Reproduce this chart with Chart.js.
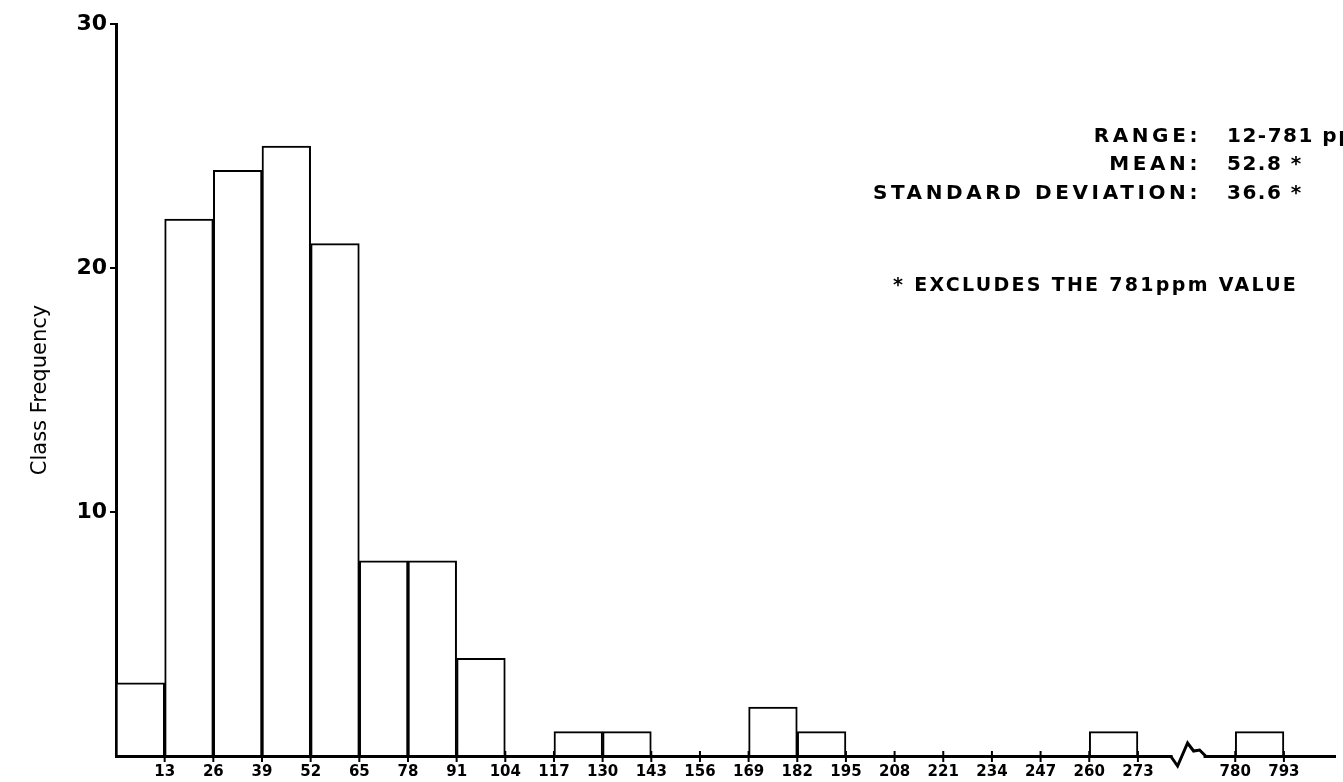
<!DOCTYPE html>
<html>
<head>
<meta charset="utf-8">
<script src="https://cdn.jsdelivr.net/npm/chart.js@4"></script>
<style>
  body { margin: 0; background: #fff; }
</style>
</head>
<body>
<canvas id="histogram" width="1343" height="782"></canvas>
<script>
/*
 * Data: class edges (ppm) and class frequencies
 */

// tick labels on the x axis and the bin edge index they sit on (20 -> 22 is the axis break)
let edgeLabels = ['13', '26', '39', '52', '65', '78', '91', '104', '117', '130', '143', '156',
    '169', '182', '195', '208', '221', '234', '247', '260', '273', '780', '793']
let edgeIndex = [0, 1, 2, 3, 4, 5, 6, 7, 8, 9, 10, 11, 12, 13, 14, 15, 16, 17, 18, 19, 20, 22, 23]

// each bin starts at this edge index and runs one class width
let binStart = [-1, 0, 1, 2, 3, 4, 5, 6, 7, 8, 9, 10, 11, 12, 13, 14, 15, 16, 17, 18, 19, 22]
let classFrequency = [3, 22, 24, 25, 21, 8, 8, 4, 0, 1, 1, 0, 0, 2, 1, 0, 0, 0, 0, 0, 1, 1]

let yTicks = [0, 10, 20, 30]

let statLabels = ['RANGE:', 'MEAN:', 'STANDARD DEVIATION:']
let statValues = ['12-781 ppm', '52.8 *', '36.6 *']
let footNote = '* EXCLUDES THE 781ppm VALUE'

let barData = binStart.map(function (s, i) {
    return { x: s + 0.5, y: classFrequency[i] }
})

/*
 * Tick crosses and axis break on the x axis, plus the statistics text
 */

let extrasPlugin = {
    id: 'extras',
    afterDraw: function (chart) {
        let ctx = chart.ctx
        let xs = chart.scales.x
        let y0 = chart.scales.y.getPixelForValue(0)
        let bx = xs.getPixelForValue(21)

        ctx.save()
        ctx.strokeStyle = '#000'
        ctx.lineWidth = 2
        edgeIndex.forEach(function (v) {
            let px = xs.getPixelForValue(v)
            ctx.beginPath()
            ctx.moveTo(px, y0 - 5)
            ctx.lineTo(px, y0 + 6)
            ctx.stroke()
        })

        ctx.fillStyle = '#fff'
        ctx.fillRect(bx - 14, y0 - 3, 31, 6)
        ctx.lineWidth = 3
        ctx.lineJoin = 'miter'
        ctx.beginPath()
        ctx.moveTo(bx - 16, y0)
        ctx.lineTo(bx - 9, y0 + 10)
        ctx.lineTo(bx + 1, y0 - 13)
        ctx.lineTo(bx + 7, y0 - 5)
        ctx.lineTo(bx + 13, y0 - 6)
        ctx.lineTo(bx + 19, y0)
        ctx.stroke()

        ctx.fillStyle = '#000'
        ctx.font = 'bold 20px "DejaVu Sans"'
        ctx.textBaseline = 'middle'
        let rows = [137, 165, 194]
        for (let i = 0; i < statLabels.length; i++) {
            ctx.letterSpacing = '3.6px'
            ctx.textAlign = 'right'
            ctx.fillText(statLabels[i], 1201, rows[i])
            ctx.textAlign = 'left'
            ctx.letterSpacing = '1.5px'
            ctx.fillText(statValues[i], 1227, rows[i])
        }
        ctx.letterSpacing = '2.3px'
        ctx.font = 'bold 19px "DejaVu Sans"'
        ctx.textAlign = 'left'
        ctx.fillText(footNote, 893, 286)
        ctx.restore()
    }
}

let histogramConfig = {
    type: 'bar',
    data: {
        datasets: [{
            data: barData,
            backgroundColor: '#fff',
            borderColor: '#000',
            borderWidth: 2,
            barPercentage: 1,
            categoryPercentage: 1
        }]
    },
    options: {
        responsive: false,
        animation: false,
        layout: { padding: { left: 0, right: 8, top: 24, bottom: 0 } },
        plugins: {
            legend: { display: false },
            tooltip: { enabled: false }
        },
        scales: {
            x: {
                type: 'linear',
                offset: false,
                min: -1,
                max: 24.05,
                grid: { offset: false, drawOnChartArea: false, drawTicks: false },
                border: { display: true, color: '#000', width: 3 },
                afterBuildTicks: function (scale) {
                    scale.ticks = edgeIndex.map(function (v) { return { value: v } })
                },
                afterFit: function (scale) { scale.height = 26 },
                ticks: {
                    autoSkip: false,
                    maxRotation: 0,
                    padding: 7,
                    color: '#000',
                    font: { family: 'DejaVu Sans', size: 15, weight: 'bold' },
                    callback: function (value) {
                        let i = edgeIndex.indexOf(value)
                        return i < 0 ? '' : edgeLabels[i]
                    }
                }
            },
            y: {
                min: 0,
                max: 30,
                grid: {
                    drawOnChartArea: false,
                    lineWidth: 2,
                    tickLength: 6,
                    color: function (c) { return c.tick && c.tick.value === 0 ? 'rgba(0,0,0,0)' : '#000' }
                },
                border: { display: true, color: '#000', width: 3 },
                afterBuildTicks: function (scale) {
                    scale.ticks = yTicks.map(function (v) { return { value: v } })
                },
                afterFit: function (scale) { scale.width = 116 },
                title: {
                    display: true,
                    text: 'Class Frequency',
                    color: '#000',
                    font: { family: 'DejaVu Sans', size: 21 },
                    padding: { top: 28, bottom: 0 }
                },
                ticks: {
                    padding: 3,
                    color: '#000',
                    font: { family: 'DejaVu Sans', size: 22, weight: 'bold' },
                    callback: function (value) { return value === 0 ? '' : value }
                }
            }
        }
    },
    plugins: [extrasPlugin]
}

var histogramCanvas = document.getElementById('histogram')

var histogramChart = new Chart(histogramCanvas, histogramConfig)
</script>
</body>
</html>
